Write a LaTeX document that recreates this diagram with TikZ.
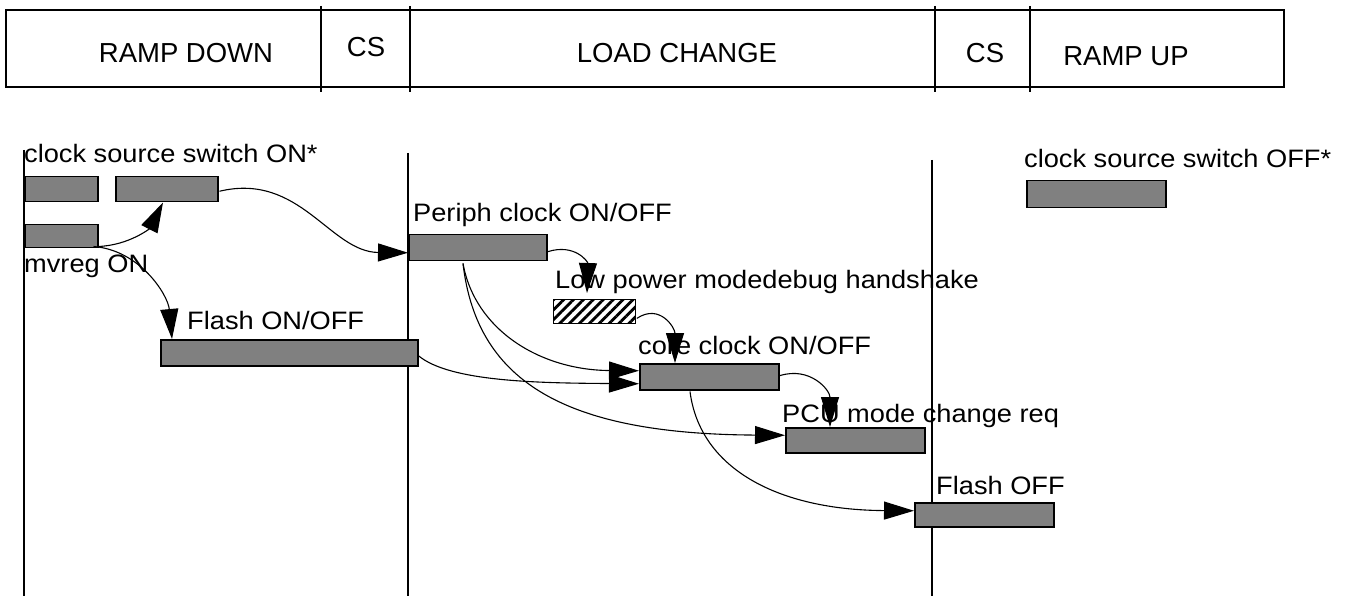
\documentclass[tikz,border=0pt]{standalone}
\usepackage{fontspec}
\setmainfont{Liberation Sans}
\newfontfamily\lblfont{Liberation Sans}[FakeStretch=1.08]
\newfontfamily\hdrfont{Liberation Sans}
\usetikzlibrary{arrows.meta,calc,patterns.meta}
\definecolor{barfill}{RGB}{128,128,128}
\tikzset{
  bar/.style={draw=black, fill=barfill, line width=1.5pt, rectangle, inner sep=0pt, anchor=north west},
  hatchbar/.style={draw=black, fill=white, line width=1.5pt, rectangle, inner sep=0pt, anchor=north west,
    pattern={Lines[angle=45,distance=7pt,line width=2.8pt]}},
  lbl/.style={anchor=base west, inner sep=0pt, font=\lblfont\fontsize{25.2}{30}\selectfont},
  hdr/.style={anchor=base, inner sep=0pt, font=\hdrfont\fontsize{27.5}{32}\selectfont},
  conn/.style={line width=1.1pt, -{Triangle[length=30pt,width=18pt]}},
  vline/.style={line width=1.6pt},
  hline/.style={line width=1.8pt},
}
\begin{document}
\begin{tikzpicture}[x=1pt,y=-1pt]
\useasboundingbox (0,0) rectangle (1345,596);
% header
\draw[hline] (6,10) rectangle (1284,87);
\foreach \x/\n in {321/a,410/b,935/c,1030/d}{
  \coordinate (ht\n) at (\x,6);
  \coordinate (hb\n) at (\x,92);
  \draw[vline] (ht\n) -- (hb\n);
}
\node[hdr] (h1) at (186,63) {RAMP DOWN};
\node[hdr] (h2) at (366,57) {CS};
\node[hdr] (h3) at (677,63) {LOAD CHANGE};
\node[hdr] (h4) at (985,63) {CS};
\node[hdr] (h5) at (1126,66) {RAMP UP};
% time lines
\coordinate (l1t) at (24,150);  \coordinate (l1b) at (24,596);
\coordinate (l2t) at (408,153); \coordinate (l2b) at (408,596);
\coordinate (l3t) at (932,160); \coordinate (l3b) at (932,596);
\draw[vline] (l1t) -- (l1b);
\draw[vline] (l2t) -- (l2b);
\draw[vline] (l3t) -- (l3b);
% bars
\node[bar, minimum width=73pt, minimum height=25pt] (cs1) at (24,176) {};
\node[bar, minimum width=102pt, minimum height=25pt] (cs2) at (115,176) {};
\node[bar, minimum width=73pt, minimum height=23pt] (mv) at (24,224) {};
\node[bar, minimum width=257pt, minimum height=26pt] (flash) at (160,339) {};
\node[bar, minimum width=138pt, minimum height=26pt] (periph) at (408,234) {};
\node[hatchbar, minimum width=82pt, minimum height=24pt] (hatch) at (552,298) {};
\node[bar, minimum width=139pt, minimum height=26pt] (core) at (639,363) {};
\node[bar, minimum width=139pt, minimum height=25pt] (pcu) at (785,427) {};
\node[bar, minimum width=139pt, minimum height=24pt] (foff) at (914,502) {};
\node[bar, minimum width=139pt, minimum height=27pt] (csoff) at (1026,180) {};
% labels
\node[lbl] (t1) at (24,163) {clock source switch ON*};
\node[lbl] (t2) at (24,273) {mvreg ON};
\node[lbl] (t3) at (187,330) {Flash ON/OFF};
\node[lbl] (t4) at (413,222) {Periph clock ON/OFF};
\node[lbl] (t5) at (555,289) {Low power modedebug handshake};
\node[lbl] (t6) at (638,355) {core clock ON/OFF};
\node[lbl] (t7) at (782,422) {PCU mode change req};
\node[lbl] (t8) at (936,494) {Flash OFF};
\node[lbl] (t9) at (1024,168) {clock source switch OFF*};
% connectors
\draw[conn] ($(mv.south east)+(0,-2)$) .. controls (130,245) and (150,228) .. ($(cs2.south west)+(48,0)$);
\draw[conn] ($(mv.south east)+(-5,-2)$) .. controls (140,250) and (168,295) .. ($(flash.north west)+(12,0)$);
\draw[conn] ($(cs2.east)+(1,2)$) .. controls (300,172) and (330,252) .. ($(periph.west)+(0,5)$);
\draw[conn] ($(periph.east)+(0,4)$) .. controls (575,243) and (588,262) .. ($(hatch.north west)+(35,-5)$);
\draw[conn] ($(hatch.east)+(0,7)$) .. controls (660,303) and (675,328) .. ($(core.north west)+(36,0)$);
\draw[conn] ($(periph.south west)+(55,2)$) .. controls (475,330) and (540,370) .. ($(core.west)+(0,-6)$);
\draw[conn] ($(periph.south west)+(55,2)$) .. controls (477,385) and (570,434) .. ($(pcu.west)+(0,-5)$);
\draw[conn] ($(flash.east)+(0,3)$) .. controls (450,382) and (540,383) .. ($(core.west)+(0,7)$);
\draw[conn] ($(core.east)+(0,-1)$) .. controls (810,366) and (830,390) .. ($(pcu.north west)+(45,0)$);
\draw[conn] ($(core.south west)+(51,1)$) .. controls (700,470) and (780,510) .. ($(foff.west)+(0,-4)$);
\end{tikzpicture}
\end{document}
